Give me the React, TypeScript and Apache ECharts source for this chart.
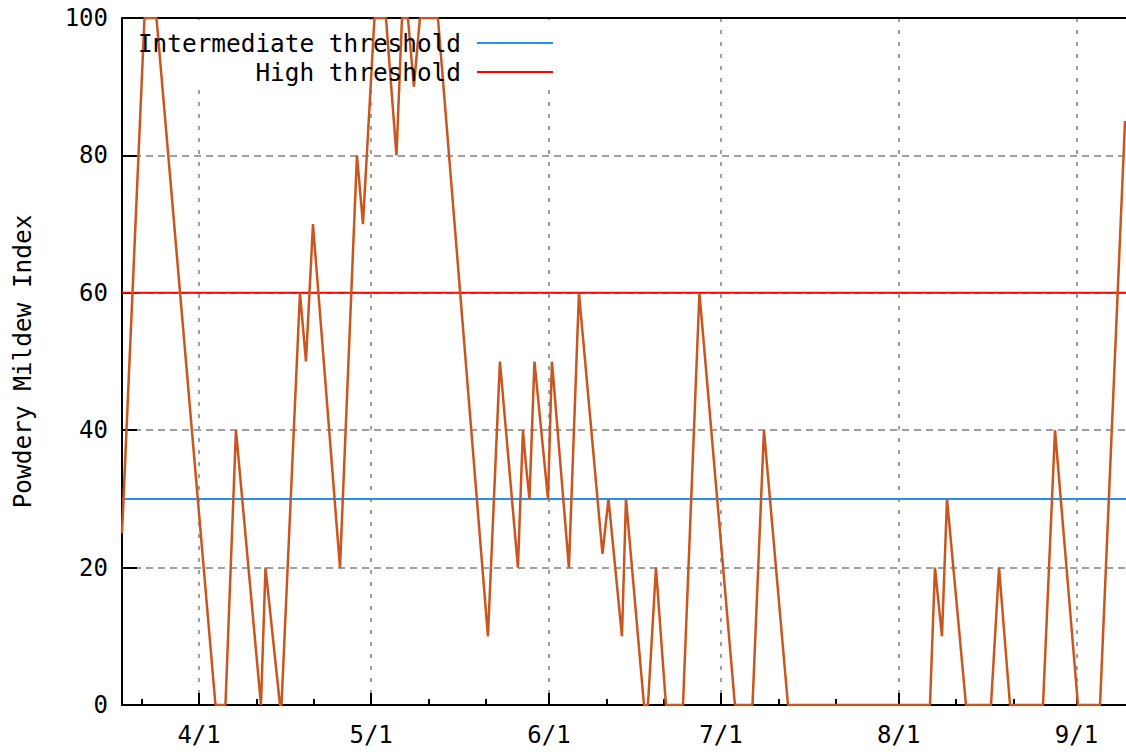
import React, { useEffect, useRef } from 'react';
import * as echarts from 'echarts';

// x positions of the index's turning points, in days from April 1
const daysFromApr1 = [
  -13.44, -9.52, -7.43, 2.86, 4.6, 6.43, 10.79, 11.58, 14.11, 14.37,
  17.59, 18.64, 19.86, 24.57, 27.53, 28.58, 30.58, 32.59, 34.42, 35.38,
  36.42, 37.46, 38.51, 41.65, 50.37, 52.46, 55.6, 56.47, 56.99, 57.61,
  58.48, 60.84, 61.53, 64.49, 66.24, 70.34, 71.39, 73.74, 74.44, 77.58,
  78.27, 79.67, 81.41, 84.38, 87.25, 93.44, 96.5, 98.5, 102.69, 127.45,
  128.32, 129.54, 130.42, 133.73, 138.09, 139.49, 141.41, 147.16, 149.25, 153.26,
  157.1, 161.46,
];
// Powdery Mildew Index at those points
const mildewIndex = [
  25, 100, 100, 0, 0, 40, 0, 20, 0, 0,
  60, 50, 70, 20, 80, 70, 100, 100, 80, 100,
  100, 90, 100, 100, 10, 50, 20, 40, 35, 30,
  50, 30, 50, 20, 60, 22, 30, 10, 30, 0,
  0, 20, 0, 0, 60, 0, 0, 40, 0, 0,
  20, 10, 30, 0, 0, 20, 0, 0, 40, 0,
  0, 85,
];
const intermediateThreshold = 30;
const highThreshold = 60;
const axisStartDay = -13.44;
const axisEndDay = 161.63;
const majorTickDates = ['2010-04-01', '2010-05-01', '2010-06-01', '2010-07-01', '2010-08-01', '2010-09-01'];
const minorTickDates = [
  '2010-03-22', '2010-04-11', '2010-04-21', '2010-05-11', '2010-05-21', '2010-06-11',
  '2010-06-21', '2010-07-11', '2010-07-21', '2010-08-11', '2010-08-21',
];
const yTicks = { min: 0, max: 100, step: 20 };

const APR1 = Date.UTC(2010, 3, 1);
const DAY = 86400000;
const FONT = '"DejaVu Sans Mono", "Liberation Mono", monospace';

const toDay = (s: string) => Math.round((new Date(s).getTime() - APR1) / DAY);
const dayLabel = (d: number) => {
  const dt = new Date(APR1 + Math.round(d) * DAY);
  return `${dt.getUTCMonth() + 1}/${dt.getUTCDate()}`;
};

export default function App() {
  const ref = useRef<HTMLDivElement>(null);
  useEffect(() => {
    if (!ref.current) return;
    const chart = echarts.init(ref.current, null, { renderer: 'svg' });
    const majorDays = majorTickDates.map(toDay);
    const minorDays = minorTickDates.map(toDay);
    const seriesData = daysFromApr1.map((d, i) => [d, mildewIndex[i]]);
    const black = { color: '#000', width: 2 };
    const legendBase = {
      right: 573,
      orient: 'vertical',
      align: 'right',
      icon: 'rect',
      itemWidth: 76,
      itemHeight: 2,
      padding: 0,
      selectedMode: false,
      textStyle: { fontFamily: FONT, fontSize: 24.4, color: '#000', padding: [0, 11, 0, 0] },
    };
    const baseX = { type: 'value', min: axisStartDay, max: axisEndDay };
    chart.setOption({
      animation: false,
      backgroundColor: '#fff',
      grid: { left: 122, top: 18, right: 0, bottom: 50, containLabel: false, outerBoundsMode: 'none' },
      legend: [
        { ...legendBase, top: 31, data: ['Intermediate threshold'] },
        { ...legendBase, top: 60, data: ['High threshold'] },
      ],
      xAxis: [
        {
          ...baseX,
          position: 'bottom',
          axisLine: { show: true, onZero: false, lineStyle: black },
          axisTick: { show: true, inside: true, length: 12, customValues: majorDays, lineStyle: black },
          axisLabel: {
            customValues: majorDays,
            formatter: (v: number) => dayLabel(v),
            fontFamily: FONT,
            fontSize: 24,
            color: '#000',
            margin: 18,
          },
          splitLine: { show: true, lineStyle: { color: '#a0a0a0', width: 2, type: [4, 8] } },
        },
        {
          ...baseX,
          position: 'bottom',
          offset: 0,
          axisLine: { show: false, onZero: false },
          axisTick: { show: true, inside: true, length: 6, customValues: minorDays, lineStyle: black },
          axisLabel: { show: false },
          splitLine: { show: false },
        },
        {
          ...baseX,
          position: 'top',
          axisLine: { show: true, onZero: false, lineStyle: black },
          axisTick: { show: false },
          axisLabel: { show: false },
          splitLine: { show: false },
        },
      ],
      yAxis: {
        type: 'value',
        min: yTicks.min,
        max: yTicks.max,
        interval: yTicks.step,
        name: 'Powdery Mildew Index',
        nameLocation: 'middle',
        nameGap: 88,
        nameRotate: 90,
        nameTextStyle: { fontFamily: FONT, fontSize: 24.4, color: '#000' },
        axisLine: { show: true, onZero: false, lineStyle: black },
        axisTick: { show: true, inside: true, length: 15, lineStyle: black },
        axisLabel: { fontFamily: FONT, fontSize: 24, color: '#000', margin: 14 },
        splitLine: { show: true, lineStyle: { color: '#a0a0a0', width: 2, type: [7, 5] } },
      },
      graphic: {
        elements: [
          {
            type: 'rect',
            z: 1,
            silent: true,
            shape: { x: 128, y: 20, width: 434, height: 64 },
            style: { fill: '#fff' },
          },
        ],
      },
      series: [
        {
          name: 'Powdery Mildew Index',
          type: 'line',
          xAxisIndex: 0,
          data: seriesData,
          symbol: 'none',
          showSymbol: false,
          lineStyle: { color: '#c8561e', width: 2.5 },
          itemStyle: { color: '#c8561e' },
          z: 3,
        },
        {
          name: 'Intermediate threshold',
          type: 'line',
          xAxisIndex: 0,
          data: [[axisStartDay, intermediateThreshold], [axisEndDay, intermediateThreshold]],
          symbol: 'none',
          lineStyle: { color: '#1e90ff', width: 2 },
          itemStyle: { color: '#1e90ff' },
          z: 2,
        },
        {
          name: 'High threshold',
          type: 'line',
          xAxisIndex: 0,
          data: [[axisStartDay, highThreshold], [axisEndDay, highThreshold]],
          symbol: 'none',
          lineStyle: { color: '#ff0000', width: 2 },
          itemStyle: { color: '#ff0000' },
          z: 2,
        },
      ],
    });
    return () => chart.dispose();
  }, []);
  return (
    <div
      ref={ref}
      style={{ position: 'absolute', left: 0, top: 0, width: 1126, height: 755, background: '#fff' }}
    />
  );
}
